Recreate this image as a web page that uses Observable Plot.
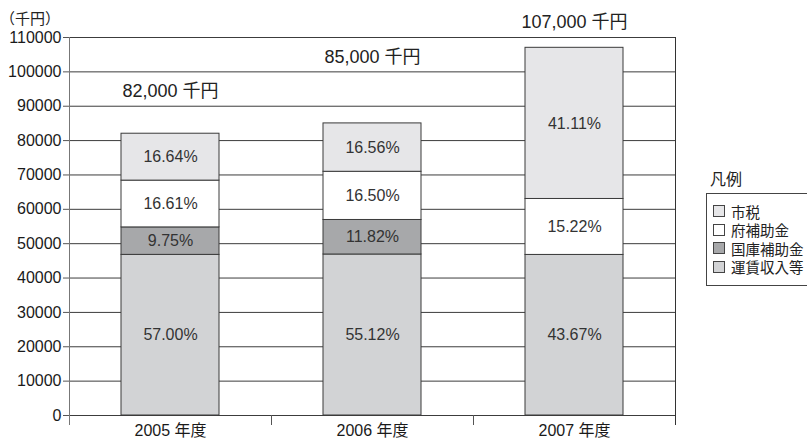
<!DOCTYPE html>
<html>
<head>
<meta charset="utf-8">
<script src="https://cdn.jsdelivr.net/npm/d3@7"></script>
<script src="https://cdn.jsdelivr.net/npm/@observablehq/plot@0.6"></script>
<style>
  html, body { margin: 0; padding: 0; background: #fff; }
  #wrap { position: relative; width: 807px; height: 443px; overflow: hidden;
          font-family: "Liberation Sans", "Noto Sans CJK JP", sans-serif; color: #222; }
  #unit { position: absolute; left: 0; top: 7px; font-size: 15px; }
  #legend-title { position: absolute; left: 710px; top: 166px; font-size: 16px; }
  #legend { position: absolute; left: 706px; top: 193px; width: 120px; height: 93px;
            border: 1px solid #444; box-sizing: border-box; padding: 8px 0 0 6px; }
  .item { display: flex; align-items: center; height: 18.5px; font-size: 14.5px; }
  .sw { width: 12px; height: 12px; border: 1px solid #444; box-sizing: border-box; margin-right: 6px; }
</style>
</head>
<body>
<div id="wrap">
  <div id="chart"></div>
  <div id="unit">（千円）</div>
  <div id="legend-title">凡例</div>
  <div id="legend"></div>
</div>
<script>
// Fiscal years and total budget (千円)
const years = ["2005 年度", "2006 年度", "2007 年度"];
const totals = [82000, 85000, 107000];

// Share of each funding source per year (%)
const fareShare = [57.00, 55.12, 43.67];     // 運賃収入等
const nationalShare = [9.75, 11.82, 0];      // 国庫補助金
const prefShare = [16.61, 16.50, 15.22];     // 府補助金
const cityShare = [16.64, 16.56, 41.11];     // 市税

// Funding sources, bottom of the stack first
const sources = ["運賃収入等", "国庫補助金", "府補助金", "市税"];
const sourceColors = ["#d2d3d5", "#a7a8aa", "#ffffff", "#e6e6e8"];
// Legend lists them top to bottom
const legendOrder = ["市税", "府補助金", "国庫補助金", "運賃収入等"];

// Y axis ticks
const yTicks = [0, 10000, 20000, 30000, 40000, 50000, 60000, 70000, 80000, 90000, 100000, 110000];

// Vertical nudges for the total labels (px)
const totalLabelDy = [-42, -66, -26];

const shareBySource = [fareShare, nationalShare, prefShare, cityShare];
const rows = [];
years.forEach((year, i) => {
  sources.forEach((source, j) => {
    const share = shareBySource[j][i];
    if (share > 0) rows.push({year, source, share, value: totals[i] * share / 100});
  });
});
const totalRows = years.map((year, i) => ({year, total: totals[i]}));

// Plot frame: left axis line, right border and band-boundary ticks
function frameLines(index, scales, values, dims) {
  const {width, height, marginLeft, marginRight, marginTop, marginBottom} = dims;
  const x0 = marginLeft, x1 = width - marginRight;
  const yTop = marginTop, yBot = height - marginBottom;
  const step = (x1 - x0) / years.length;
  const g = d3.create("svg:g");
  g.append("line").attr("x1", x0 + 0.5).attr("x2", x0 + 0.5)
    .attr("y1", yTop).attr("y2", yBot + 10).attr("stroke", "#777");
  g.append("line").attr("x1", x1 + 0.5).attr("x2", x1 + 0.5)
    .attr("y1", yTop).attr("y2", yBot + 10).attr("stroke", "#333");
  for (let i = 1; i < years.length; i++) {
    const x = Math.round(x0 + i * step) + 0.5;
    g.append("line").attr("x1", x).attr("x2", x)
      .attr("y1", yBot).attr("y2", yBot + 10).attr("stroke", "#555");
  }
  return g.node();
}

const fontFamily = "'Liberation Sans', 'Noto Sans CJK JP', sans-serif";

const chart = Plot.plot({
  width: 807,
  height: 443,
  marginLeft: 69,
  marginRight: 132,
  marginTop: 37,
  marginBottom: 28,
  style: {fontFamily, background: "transparent", color: "#222"},
  x: {domain: years, paddingInner: 0.515, paddingOuter: 0.2575, axis: null},
  y: {domain: [0, 110000], axis: null},
  color: {domain: sources, range: sourceColors},
  marks: [
    Plot.gridY(yTicks, {stroke: "#3c3c3c", strokeOpacity: 1}),
    Plot.barY(rows, {x: "year", y: "value", fill: "source", stroke: "#3a3a3a", strokeWidth: 1}),
    Plot.text(rows, Plot.stackY({
      x: "year", y: "value",
      text: d => d.share.toFixed(2) + "%",
      fontSize: 16, fill: "#333"
    })),
    ...totalRows.map((d, i) => Plot.text([d], {
      x: "year", y: "total",
      text: r => d3.format(",")(r.total) + " 千円",
      fontSize: 18, fill: "#222", dy: totalLabelDy[i]
    })),
    Plot.axisY(yTicks, {
      tickFormat: d => String(d), tickSize: 6, tickPadding: 2,
      fontSize: 16, label: null, stroke: "#555", fill: "#1a1a1a"
    }),
    Plot.axisX({tickSize: 0, tickPadding: 9, fontSize: 16, label: null, fill: "#1a1a1a"}),
    frameLines
  ]
});
document.getElementById("chart").appendChild(chart);

// Legend
const legend = d3.select("#legend");
legendOrder.forEach(name => {
  const item = legend.append("div").attr("class", "item");
  item.append("div").attr("class", "sw")
    .style("background", sourceColors[sources.indexOf(name)]);
  item.append("span").text(name);
});
</script>
</body>
</html>
